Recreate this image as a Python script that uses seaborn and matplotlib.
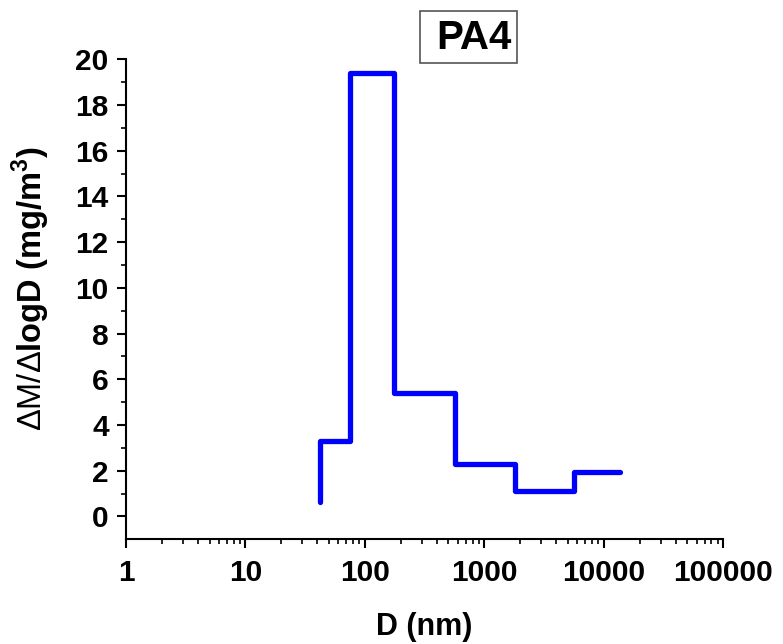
import matplotlib
matplotlib.use("Agg")
import matplotlib.pyplot as plt
import matplotlib.patches as mpatches
from matplotlib.ticker import LogLocator, FixedLocator, NullFormatter
import seaborn as sns
import pandas as pd

# Data (step edges in nm, values in mg/m^3)
diameter_nm = [42, 42, 75, 177, 570, 1800, 5700, 13600]
dm_dlogd = [0.65, 3.3, 19.4, 5.4, 2.3, 1.1, 1.95, 1.95]
x_tick_labels = ["1", "10", "100", "1000", "10000", "100000"]
title_text = "PA4"

sns.set_theme(style="ticks")
plt.rcParams['font.family'] = ['Liberation Sans', 'DejaVu Sans']
plt.rcParams['mathtext.fontset'] = 'custom'
plt.rcParams['mathtext.rm'] = 'Liberation Sans'
plt.rcParams['mathtext.bf'] = 'Liberation Sans:bold'
plt.rcParams['text.color'] = 'black'
plt.rcParams['axes.labelcolor'] = 'black'
plt.rcParams['xtick.color'] = 'black'
plt.rcParams['ytick.color'] = 'black'

fig = plt.figure(figsize=(7.83, 6.44), dpi=100)
ax = fig.add_axes([0.161, 0.1626, 0.7624, 0.7453])

df = pd.DataFrame({"D": diameter_nm, "M": dm_dlogd})
sns.lineplot(data=df, x="D", y="M", sort=False, estimator=None, ax=ax,
             color="#0000FF", linewidth=3.8, drawstyle="steps-post",
             solid_joinstyle="round", solid_capstyle="round")

ax.set_xscale("log")
ax.set_xlim(1, 100000)
ax.set_ylim(-1, 20)

ax.xaxis.set_major_locator(FixedLocator([1, 10, 100, 1000, 10000, 100000]))
ax.set_xticklabels(x_tick_labels)
ax.xaxis.set_minor_locator(LogLocator(base=10, subs=range(2, 10), numticks=20))
ax.xaxis.set_minor_formatter(NullFormatter())
ax.yaxis.set_major_locator(FixedLocator(list(range(0, 21, 2))))
ax.yaxis.set_minor_locator(FixedLocator(list(range(1, 20, 2))))

for s in ["top", "right"]:
    ax.spines[s].set_visible(False)
for s in ["left", "bottom"]:
    ax.spines[s].set_linewidth(1.5)
    ax.spines[s].set_color("black")

ax.tick_params(axis="both", which="both", bottom=True, left=True, top=False, right=False)
ax.tick_params(axis="both", which="major", direction="out", length=6.5, width=1.5,
               color="black", labelcolor="black", labelsize=21.5, pad=6)
ax.tick_params(axis="both", which="minor", direction="out", length=3.5, width=1.2,
               color="black")
ax.tick_params(axis="x", which="major", pad=8)
for lab in ax.get_xticklabels() + ax.get_yticklabels():
    lab.set_fontweight("bold")

ax.set_xlabel("D (nm)", fontsize=22, fontweight="bold", color="black")
ax.set_ylabel(r"$\mathrm{\Delta M/\Delta}$logD (mg/m$^{\mathbf{3}}$)", fontsize=23.5,
              fontweight="bold", color="black")
ax.xaxis.set_label_coords(0.5, -0.152)
ax.yaxis.set_label_coords(-0.124, 0.523)

# Title box
rect = mpatches.Rectangle((420 / 783, 1 - 63 / 644), 97 / 783, 52 / 644,
                          transform=fig.transFigure, fill=False,
                          edgecolor="#555555", linewidth=1.2)
fig.patches.append(rect)
fig.text(474 / 783, 1 - 38 / 644, title_text, fontsize=29, fontweight="bold",
         ha="center", va="center", color="black")

fig.savefig("out.png", dpi=100)
